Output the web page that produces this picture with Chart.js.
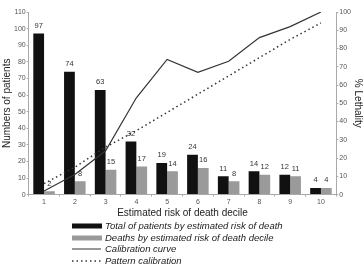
<!DOCTYPE html>
<html lang="en">
<head>
<meta charset="UTF-8">
<title>Estimated risk of death decile</title>
<script src="https://cdn.jsdelivr.net/npm/chart.js"></script>
<style>
  body { margin: 0; background: #fff; }
  #wrap { width: 364px; height: 267px; }
</style>
</head>
<body>
<div id="wrap"><canvas id="chart" width="364" height="267"></canvas></div>
<script>
  // deciles
  const deciles = ['1', '2', '3', '4', '5', '6', '7', '8', '9', '10'];
  // bars, left axis (patients)
  const totalPatients = [97, 74, 63, 32, 19, 24, 11, 14, 12, 4];
  const deaths = [2, 8, 15, 17, 14, 16, 8, 12, 11, 4];
  // lines, right axis (% lethality)
  const calibration = [2, 11, 24, 53, 74, 67, 73, 86, 92, 100];
  const pattern = [6, 15, 26, 35, 45, 55, 65, 75, 85, 94];

  const legendTexts = [
    'Total of patients by estimated risk of death',
    'Deaths by estimated risk of death decile',
    'Calibration curve',
    'Pattern calibration'
  ];

  const fontFam = '"Liberation Sans", Arial, sans-serif';

  // numbers above the bars
  const barLabels = {
    id: 'barLabels',
    afterDatasetsDraw(chart) {
      const ctx = chart.ctx;
      ctx.save();
      ctx.font = '7.5px ' + fontFam;
      ctx.fillStyle = '#333';
      ctx.textAlign = 'center';
      ctx.textBaseline = 'bottom';
      chart.data.datasets.forEach((ds, i) => {
        if (ds.type !== 'bar') return;
        chart.getDatasetMeta(i).data.forEach((bar, j) => {
          ctx.fillText(ds.data[j], bar.x, bar.y - 4);
        });
      });
      ctx.restore();
    }
  };

  // legend list below the chart
  const legendBox = {
    id: 'legendBox',
    afterDraw(chart) {
      const ctx = chart.ctx;
      const x0 = 72, rows = [226, 238, 249, 261];
      ctx.save();
      ctx.font = 'italic 9.5px ' + fontFam;
      ctx.fillStyle = '#222';
      ctx.textBaseline = 'middle';
      legendTexts.forEach((t, i) => {
        const y = rows[i];
        if (i === 0) { ctx.fillStyle = '#111'; ctx.fillRect(x0, y - 2.5, 30, 5); }
        if (i === 1) { ctx.fillStyle = '#9a9a9a'; ctx.fillRect(x0, y - 2.5, 30, 5); }
        if (i >= 2) {
          ctx.strokeStyle = '#333';
          ctx.lineWidth = i === 2 ? 1 : 1.5;
          ctx.setLineDash(i === 2 ? [] : [1.5, 3]);
          ctx.beginPath(); ctx.moveTo(x0, y); ctx.lineTo(x0 + 29, y); ctx.stroke();
          ctx.setLineDash([]);
        }
        ctx.fillStyle = '#222';
        ctx.fillText(t, 105, y);
      });
      ctx.restore();
    }
  };

  const axisBase = {
    grid: { drawOnChartArea: false, drawTicks: true, tickLength: 2, color: '#aaa' },
    border: { color: '#aaa' },
    ticks: { font: { size: 7, family: fontFam }, color: '#555', padding: 1 }
  };

  new Chart(document.getElementById('chart'), {
    data: {
      labels: deciles,
      datasets: [
        { type: 'line', label: legendTexts[2], data: calibration, yAxisID: 'y1',
          borderColor: '#333', borderWidth: 1.2, pointRadius: 0, tension: 0, order: 0 },
        { type: 'line', label: legendTexts[3], data: pattern, yAxisID: 'y1',
          borderColor: '#333', borderWidth: 1.5, borderDash: [1.5, 3], pointRadius: 0, tension: 0, order: 0 },
        { type: 'bar', label: legendTexts[0], data: totalPatients, yAxisID: 'y',
          backgroundColor: '#111', order: 1 },
        { type: 'bar', label: legendTexts[1], data: deaths, yAxisID: 'y',
          backgroundColor: '#9a9a9a', order: 1 }
      ]
    },
    options: {
      responsive: false,
      animation: false,
      layout: { padding: { top: 12, bottom: 48, left: 1, right: 0 } },
      datasets: { bar: { categoryPercentage: 0.7, barPercentage: 1 } },
      plugins: { legend: { display: false }, tooltip: { enabled: false } },
      scales: {
        x: {
          ...axisBase,
          offset: true,
          title: { display: true, text: 'Estimated risk of death decile',
            font: { size: 10, family: fontFam }, color: '#222', padding: 0 }
        },
        y: {
          ...axisBase,
          position: 'left',
          min: 0, max: 110,
          ticks: { ...axisBase.ticks, stepSize: 10 },
          title: { display: true, text: 'Numbers of patients',
            font: { size: 10, family: fontFam }, color: '#222', padding: 0 }
        },
        y1: {
          ...axisBase,
          position: 'right',
          min: 0, max: 100,
          ticks: { ...axisBase.ticks, stepSize: 10 },
          title: { display: true, text: '% Lethality',
            font: { size: 10, family: fontFam }, color: '#222', padding: 0 }
        }
      }
    },
    plugins: [barLabels, legendBox]
  });
</script>
</body>
</html>
